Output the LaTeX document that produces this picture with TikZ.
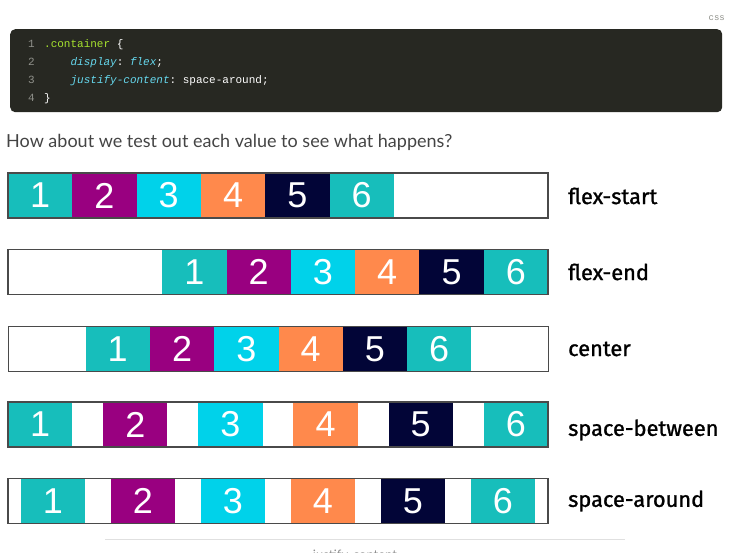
\documentclass[tikz,border=0pt]{standalone}
\usepackage{fontspec}
\setmainfont{Lato}
\setmonofont{Liberation Mono}
\newfontfamily\numfont{Liberation Sans}
\newfontfamily\tagfont[FakeBold=1.2]{Fira Sans}
\usepackage{xcolor}
\usetikzlibrary{positioning}
\definecolor{cCode}{HTML}{272822}
\definecolor{cLineNo}{HTML}{8F908A}
\definecolor{cSel}{HTML}{A6E22E}
\definecolor{cProp}{HTML}{66D9EF}
\definecolor{cTeal}{HTML}{17BEBB}
\definecolor{cPurple}{HTML}{990080}
\definecolor{cCyan}{HTML}{00D2EA}
\definecolor{cOrange}{HTML}{FF894C}
\definecolor{cNavy}{HTML}{020537}
\definecolor{cEdge}{HTML}{4A4A4A}
\definecolor{cText}{HTML}{444444}
\tikzset{
  codebox/.style = {rectangle, rounded corners=5pt, fill=cCode, minimum width=712pt,
                    minimum height=83pt, inner sep=0pt},
  lno/.style     = {anchor=base west, inner sep=0pt, text=cLineNo, font=\ttfamily\fontsize{11}{13}\selectfont},
  code/.style    = {anchor=base west, inner sep=0pt, text=white, font=\ttfamily\fontsize{11}{13}\selectfont},
  frame/.style   = {rectangle, minimum width=540pt, minimum height=45pt, inner sep=0pt,
                    outer sep=0pt, fill=white},
  edge/.style    = {draw=cEdge, line width=1.3pt},
  cell/.style    = {rectangle, fill=#1, minimum width=64.3pt, minimum height=45pt,
                    inner sep=0pt, outer sep=0pt, text=white,
                    font=\numfont\fontsize{36}{36}\selectfont},
  cell/.default  = cTeal,
  tag/.style     = {anchor=west, inner sep=0pt, text=black, font=\tagfont\fontsize{21.8}{24}\selectfont},
}

\begin{document}
\begin{tikzpicture}[x=1pt,y=-1pt]
  \useasboundingbox (0,0) rectangle (742,553);

  % code snippet
  \node[anchor=base east, inner sep=0pt, text=cLineNo, font=\ttfamily\fontsize{9}{10}\selectfont]
    (lang) at (725,21) {css};
  \node[codebox, anchor=north west] (snip) at (10,29) {};
  \node[lno] (n1) at (28,48) {1};
  \node[lno] (n2) at (28,66) {2};
  \node[lno] (n3) at (28,84) {3};
  \node[lno] (n4) at (28,101.5) {4};
  \node[code] (c1) at (44,48) {\textcolor{cSel}{.container} \{};
  \node[code] (c2) at (44,66) {\phantom{xxxx}\textcolor{cProp}{\itshape display}: \textcolor{cProp}{\itshape flex};};
  \node[code] (c3) at (44,84) {\phantom{xxxx}\textcolor{cProp}{\itshape justify-content}: space-around;};
  \node[code] (c4) at (44,101.5) {\}};

  \node[anchor=west, inner sep=0pt, text=cText, font=\fontsize{18}{20}\selectfont]
    (ask) at (6,142) {How about we test out each value to see what happens?};

  % flex-start
  \node[frame] (fs) at (278,195.5) {};
  \node[cell=cTeal, right=0pt of fs.west] (fs1) {1};
  \node[cell=cPurple, right=0pt of fs1] (fs2) {2};
  \node[cell=cCyan, right=0pt of fs2] (fs3) {3};
  \node[cell=cOrange, right=0pt of fs3] (fs4) {4};
  \node[cell=cNavy, right=0pt of fs4] (fs5) {5};
  \node[cell=cTeal, right=0pt of fs5] (fs6) {6};
  \node[tag] (tfs) at (568,196) {flex-start};

  % flex-end
  \node[frame] (fe) at (278,272) {};
  \node[cell=cTeal, right=154.2pt of fe.west] (fe1) {1};
  \node[cell=cPurple, right=0pt of fe1] (fe2) {2};
  \node[cell=cCyan, right=0pt of fe2] (fe3) {3};
  \node[cell=cOrange, right=0pt of fe3] (fe4) {4};
  \node[cell=cNavy, right=0pt of fe4] (fe5) {5};
  \node[cell=cTeal, right=0pt of fe5] (fe6) {6};
  \node[tag] (tfe) at (568,272) {flex-end};

  % center
  \node[frame] (ce) at (278.5,349) {};
  \node[cell=cTeal, right=77.1pt of ce.west] (ce1) {1};
  \node[cell=cPurple, right=0pt of ce1] (ce2) {2};
  \node[cell=cCyan, right=0pt of ce2] (ce3) {3};
  \node[cell=cOrange, right=0pt of ce3] (ce4) {4};
  \node[cell=cNavy, right=0pt of ce4] (ce5) {5};
  \node[cell=cTeal, right=0pt of ce5] (ce6) {6};
  \node[tag] (tce) at (568,349) {center};

  % space-between
  \node[frame] (sb) at (278,424.5) {};
  \node[cell=cTeal, right=0pt of sb.west] (sb1) {1};
  \node[cell=cPurple, right=30.84pt of sb1] (sb2) {2};
  \node[cell=cCyan, right=30.84pt of sb2] (sb3) {3};
  \node[cell=cOrange, right=30.84pt of sb3] (sb4) {4};
  \node[cell=cNavy, right=30.84pt of sb4] (sb5) {5};
  \node[cell=cTeal, right=30.84pt of sb5] (sb6) {6};
  \node[tag] (tsb) at (568,430) {space-between};

  % space-around
  \node[frame] (sa) at (278,501) {};
  \node[cell=cTeal, right=12.85pt of sa.west] (sa1) {1};
  \node[cell=cPurple, right=25.7pt of sa1] (sa2) {2};
  \node[cell=cCyan, right=25.7pt of sa2] (sa3) {3};
  \node[cell=cOrange, right=25.7pt of sa3] (sa4) {4};
  \node[cell=cNavy, right=25.7pt of sa4] (sa5) {5};
  \node[cell=cTeal, right=25.7pt of sa5] (sa6) {6};
  \node[tag] (tsa) at (568,501) {space-around};

  \foreach \r in {fs,fe,ce,sb,sa}
    \draw[edge] (\r.north west) rectangle (\r.south east);

  % caption, cut off at the bottom
  \coordinate (ruleL) at (105,539);
  \coordinate (ruleR) at (625,539);
  \draw[black!12, line width=0.8pt] (ruleL) -- (ruleR);
  \node[anchor=base, inner sep=0pt, text=black!45, font=\fontsize{13}{15}\selectfont]
    (cap) at (355,559) {justify-content};
\end{tikzpicture}
\end{document}
